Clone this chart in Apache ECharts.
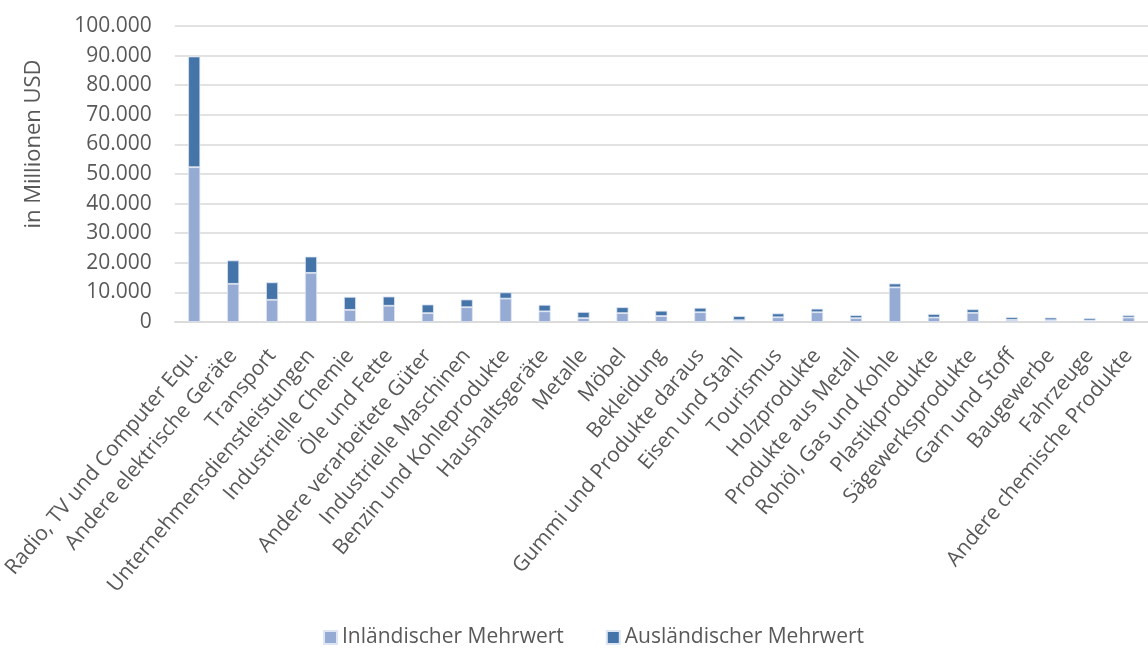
<!DOCTYPE html>
<html>
<head>
<meta charset="utf-8">
<script src="https://cdn.jsdelivr.net/npm/echarts@6/dist/echarts.min.js"></script>
<style>
  html, body { margin: 0; padding: 0; background: #fff; }
  #chart { width: 1148px; height: 648px; }
</style>
</head>
<body>
<div id="chart"></div>
<script>
// Branchen
var categories = [
  'Radio, TV und Computer Equ.', 'Andere elektrische Geräte', 'Transport',
  'Unternehmensdienstleistungen', 'Industrielle Chemie', 'Öle und Fette',
  'Andere verarbeitete Güter', 'Industrielle Maschinen', 'Benzin und Kohleprodukte',
  'Haushaltsgeräte', 'Metalle', 'Möbel', 'Bekleidung', 'Gummi und Produkte daraus',
  'Eisen und Stahl', 'Tourismus', 'Holzprodukte', 'Produkte aus Metall',
  'Rohöl, Gas und Kohle', 'Plastikprodukte', 'Sägewerksprodukte', 'Garn und Stoff',
  'Baugewerbe', 'Fahrzeuge', 'Andere chemische Produkte'
]

// in Millionen USD
var inlaendisch = [
  52300, 12900, 7500, 16600, 4100, 5500, 3000, 5000, 7900,
  3600, 1300, 3000, 2000, 3300, 600, 1600, 3300, 1300,
  11700, 1500, 3100, 700, 600, 500, 1500
]
var auslaendisch = [
  37400, 7900, 5900, 5500, 4400, 3100, 2900, 2600, 2100,
  2200, 2100, 2000, 1800, 1500, 1400, 1300, 1200, 1000,
  1300, 1200, 1200, 900, 900, 800, 800
]

var yTicks = { min: 0, max: 100000, interval: 10000 }

function fmt(v) {
  return String(v).replace(/\B(?=(\d{3})+(?!\d))/g, '.')
}

var chart = echarts.init(document.getElementById('chart'))
var font = '"Open Sans", sans-serif'

chart.setOption({
  animation: false,
  textStyle: { fontFamily: font },
  grid: {
    left: 170,
    right: -12,
    top: 26,
    bottom: 326,
    containLabel: false
  },
  legend: {
    left: 318,
    bottom: -5,
    itemWidth: 13,
    itemHeight: 13,
    itemGap: 42,
    icon: 'rect',
    textStyle: { fontSize: 21, color: '#595959', fontFamily: font },
    data: ['Inländischer Mehrwert', 'Ausländischer Mehrwert']
  },
  xAxis: {
    type: 'category',
    data: categories,
    axisTick: { show: false },
    axisLine: { lineStyle: { color: '#d9d9d9', width: 1.5 } },
    axisLabel: {
      rotate: 50,
      interval: 0,
      fontSize: 21,
      color: '#595959',
      margin: 30
    }
  },
  yAxis: {
    type: 'value',
    min: yTicks.min,
    max: yTicks.max,
    interval: yTicks.interval,
    name: 'in Millionen USD',
    nameLocation: 'middle',
    nameGap: 130,
    nameTextStyle: { fontSize: 22, color: '#595959', padding: [0, 0, 0, 60] },
    axisLine: { show: false },
    axisTick: { show: false },
    splitLine: { lineStyle: { color: '#d9d9d9', width: 1.5 } },
    axisLabel: {
      fontSize: 21,
      color: '#595959',
      margin: 23,
      formatter: fmt
    }
  },
  series: [
    {
      name: 'Inländischer Mehrwert',
      type: 'bar',
      stack: 'mw',
      barWidth: '31%',
      itemStyle: { color: '#96abd3', borderColor: '#dfe6f3', borderWidth: 0.8 },
      data: inlaendisch
    },
    {
      name: 'Ausländischer Mehrwert',
      type: 'bar',
      stack: 'mw',
      barWidth: '31%',
      itemStyle: { color: '#4574a9', borderColor: '#dfe6f3', borderWidth: 0.8 },
      data: auslaendisch
    }
  ]
})
</script>
</body>
</html>
